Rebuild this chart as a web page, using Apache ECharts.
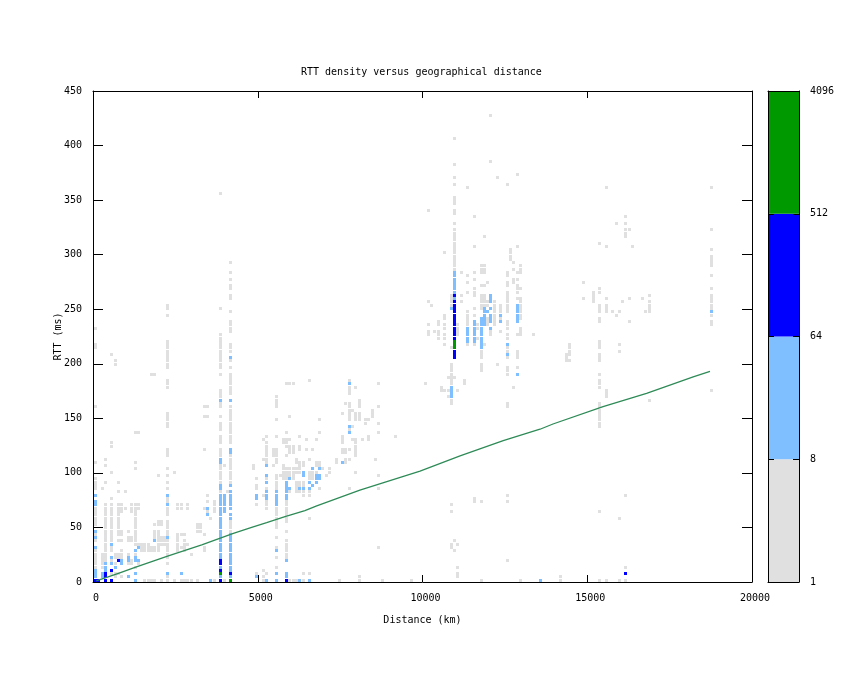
<!DOCTYPE html>
<html>
<head>
<meta charset="UTF-8">
<script type="text/javascript" src="https://cdn.jsdelivr.net/npm/echarts@6/dist/echarts.min.js"></script>
<style>
html,body{margin:0;padding:0;background:#fff;}
</style>
</head>
<body>
<div id="chartmain" style="width:845px; height:673px;"></div>
<script type="text/javascript">
var title = "RTT density versus geographical distance";
var xTitle = "Distance (km)";
var yTitle = "RTT (ms)";

// histogram bins
var kmBin = 100;
var msBin = 3;

// one entry per run of cells: [km bin, first rtt bin, last rtt bin], or [km bin, rtt bin]
var grayCells = [
 [0,77],[0,71,72],[0,53],[0,36],[0,28,31],[0,17,22],[0,14],[0,12],[0,4,9],
 [2,28],[2,7,8],[2,4,6],
 [3,37],[3,35],[3,30],[3,7,23],[3,6],
 [5,69],[5,41,42],[5,33],[5,25],[5,12,23],[5,9,10],[5,6],[5,2],
 [6,66,67],[6,7,8],[6,5],[6,1,2],
 [7,30],[7,27],[7,14,23],[7,12],[7,7,8],[7,2],
 [8,21,23],[8,14,15],[8,12],[8,7,9],[8,1],
 [9,27],[9,22],[10,15],[10,12,13],[10,5,8],[11,21,23],[11,12,13],[11,5,6],
 [12,45],[12,36],[12,34],[12,11,23],[12,8],[12,4],
 [13,45],[13,22,23],[13,11],[13,5],[14,9,11],[15,9,11],[15,0],[16,9,11],[16,0],
 [17,63],[17,9,10],[17,0],[18,63],[18,17],[18,9,10],[18,13,15],[18,0],
 [19,32],[19,17,18],[19,11,15],[19,9,10],[20,17,18],[20,11,13],[20,0],[21,11,13],
 [22,84],[22,83],[22,81],[22,73],[22,70,72],[22,66,69],[22,65],[22,59,61],[22,49,51],[22,47,48],[22,38,40],[22,34],[22,32],[22,30],[22,28],[22,24,25],[22,20,22],[22,17,18],[22,14,16],[22,7,12],[22,5],[22,0,1],
 [24,33],[24,0],[25,22,23],[25,14],[25,9,13],[26,22,23],[26,14],[26,10],[26,0],
 [27,14],[27,9,12],[27,0],[28,22,23],[28,11],[28,0],[29,8],[29,0],[31,15,17],[31,0],[32,15,17],
 [33,53],[33,50],[33,40],[33,22],[33,14],[33,9,10],[34,53],[34,50],[34,26],[34,24],[34,21],[35,19],[36,21,24],[36,0],
 [38,118],[38,83],[38,73,75],[38,70,72],[38,66,69],[38,65],[38,63],[38,58],[38,56,58],[38,53,54],[38,50],[38,46,48],[38,42,44],[38,38,40],[38,30,35],[38,27],
 [39,35],[39,0],
 [40,27],
 [41,97],[41,94],[41,92],[41,89,90],[41,87],[41,86],[41,82],[41,77,79],[41,76],[41,70,72],[41,67],[41,65],[41,63],[41,61,62],[41,59],[41,57,60],[41,52,53],[41,45,51],[41,42,44],[41,38],[41,30,37],[41,15,18],
 [48,34,35],[49,31],[49,28,29],[49,23],[49,2],[51,43],[51,37],[51,26],[51,3],[51,0,1],
 [52,44],[52,36,42],[52,37],[52,31],[52,28],[52,22,24],[52,2],[54,38,40],[54,35],[55,38,40],[55,56],[55,53,55],[55,49],[55,44],[55,36,37],[55,32],[55,26,31],[55,16,22],[55,13],[55,10],[55,7],[55,4],
 [56,32],[57,42,43],[57,35],[57,31,34],[58,60],[58,45],[58,38],[58,41],[58,42,43],[58,31,34],[58,18,25],[58,7,12],[58,15],
 [59,60],[59,50],[59,43],[59,39,41],[59,31,34],[59,27],[59,0],[60,60],[60,39,41],[60,31,34],[60,0],
 [61,36,37],[61,33,34],[61,28,30],[61,27],[61,0],[62,44],[62,40,41],[62,35,36],[62,33,34],[62,28,30],[62,27],
 [63,35,36],[63,29,30],[63,26,27],[63,2],[63,0],[64,43],[64,40],[65,61],[65,37],[65,31,33],[65,26,27],[65,19],[65,2],
 [66,40],[66,31,33],[67,43],[67,35,36],[67,31,33],[68,49],[68,45],[68,35,36],[68,28],[69,34],[70,32],[71,33,34],
 [73,37],[73,36],[74,0],[75,42,44],[75,39,40],[75,51],[76,54],[76,39,40],[76,36,37],
 [77,61],[77,57,59],[77,49,54],[77,46],[77,40],[77,37],[77,28],[78,52],[78,47],[78,43],
 [79,59],[79,49,51],[79,38,43],[79,33],[80,53,55],[80,49,51],[80,0,1],[81,43],[82,49],[82,48],[83,49],[83,43,44],[84,50,52],
 [85,37],[86,60],[86,53],[86,48],[86,45],[86,32],[86,28],[86,10],[87,0],[91,44],[96,0],
 [100,60],[101,113],[101,85],[101,78],[101,75,76],[102,84],[103,76],[104,78,79],[104,76],[104,74,75],[105,59],[105,58],
 [106,100],[106,80,81],[106,77,78],[106,74,75],[106,72],[106,58],[107,62],[107,58],[107,56],
 [108,87],[108,84,86],[108,71],[108,66],[108,63,66],[108,62],[108,60,61],[108,54,55],[108,23],[108,21],[108,11],[108,10],
 [109,135],[109,127],[109,123],[109,121],[109,115,117],[109,112,113],[109,109],[109,105,107],[109,101,104],[109,98,100],[109,95,97],[109,62],[109,12],[109,9],
 [110,77,78],[110,75,76],[110,58],[110,11],[110,4],[110,1,2],
 [111,94],[111,87],[111,85],[112,60,61],
 [113,120],[113,93],[113,91],[113,88],[113,80,82],[113,78,79],[113,72],
 [115,111],[115,102],[115,94],[115,92],[115,87,89],[115,83],[115,81],[115,72],[115,24,25],
 [116,74],[116,77,78],
 [117,94,96],[117,90],[117,87],[117,84,86],[117,83],[117,68,70],[117,64,66],[117,24],[117,0],
 [118,105],[118,94,96],[118,90],[118,87],[118,84,86],[118,72],
 [119,91],[119,84,85],[119,78,80],[120,142],[120,128],[120,75,76],
 [121,84,85],[121,78,83],[122,123],[122,66],
 [123,84],[123,82,83],[123,80],[123,76],[125,121],[125,94],[125,93],[125,91],[125,90],[125,87,88],[125,84,86],[125,82,83],[125,77,79],[125,74,75],[125,70,71],[125,68],[125,63,65],[125,53,54],[125,26],[125,24],[125,6],
 [126,101],[126,98,100],[127,97],[127,95],[127,91,92],[127,59],
 [128,124],[128,102],[128,94],[128,92],[128,88,90],[128,86],[128,75],[128,68,70],[128,65],
 [129,94,96],[129,89],[129,84,86],[129,80,83],[129,77],[129,75,76],[129,0],
 [133,75],[141,0,1],[143,67,69],[144,70,72],[144,69],[144,67],
 [148,91],[148,86],[151,85,88],
 [153,103],[153,88,89],[153,82,84],[153,80],[153,79],[153,73],[153,71,72],[153,67,69],[153,63],[153,59,61],[153,50,54],[153,47,49],[153,21],[153,0],
 [155,120],[155,102],[155,86],[155,82,84],[155,56,58],[155,0],
 [157,82],[158,109],[158,81],[159,82],[159,72],[159,70],[159,19],[159,0],[160,85],
 [161,111],[161,109],[161,105,107],[161,26],[161,4],[161,0],[162,107],[162,86],[162,79],[163,102],
 [166,86],[167,82],[168,87],[168,85],[168,82,84],[168,55],
 [187,120],[187,107],[187,101],[187,98,99],[187,96,97],[187,93],[187,89],[187,87],[187,83,86],[187,81],[187,78,79],[187,58]
];
var lightCells = [
 [0,26],[0,24],[0,23],[0,15],[0,13],[0,10],[0,1,3],
 [2,1,2],[3,4,5],[3,3],[5,11],[5,7],[5,5],[6,4],[7,6],[8,5,6],[10,7],[10,6],[10,1],
 [12,9],[12,7],[12,6],[12,2],[12,0],[13,10],[13,6],[18,12],
 [22,26],[22,23],[22,13],[22,2],[26,2],[34,22],[34,20],[35,0],
 [38,55],[38,36,37],[38,28,29],[38,21,26],[38,18,20],[38,14,17],[38,11,13],[38,7,10],[38,4],[38,1],
 [39,21,26],
 [41,55],[41,68],[41,39,40],[41,29],[41,22,27],[41,19,20],[41,14],[41,11,13],[41,8,10],[41,7],[41,4,6],[41,3],[41,1],
 [49,25,26],[49,1],[52,35],[52,32],[52,30],[52,25,27],[52,0],
 [55,24,27],[55,23],[55,9],[55,2],[55,0],
 [58,28,30],[58,25,27],[58,6],[58,1,2],[59,31],[59,28],[62,28],[62,0],
 [63,32],[63,33],[63,28],[65,30],[65,28],[65,0],[66,34],[66,29],[67,30],[67,31,32],[68,34],[68,31,32],
 [75,36],[77,60],[77,47],[77,45],[135,0],
 [108,83],[108,59],[108,56,58],
 [109,94],[109,91,93],[109,88,90],[109,86],
 [113,77],[113,73,76],[115,77,79],[115,73,76],[117,78,80],[117,75,77],[117,74],[117,71,73],
 [118,81,83],[118,78,80],[119,82],[120,87],[120,85,86],[120,83],[120,80,81],[120,79],[120,77],
 [123,81],[123,79],[125,72],[125,69],[128,84],[128,80,83],[128,79],[128,63],
 [187,82]
];
var blueCells = [
 [0,0],[1,0],[3,0,2],[5,3],[5,0],[7,6],
 [38,5,6],[38,3],[38,0],[41,2],[58,0],
 [109,87],[109,84,85],[109,80,83],[109,77,79],[109,74,76],[109,70],[109,68,69],
 [161,2]
];
var greenCells = [
 [38,2],[41,0],[109,73],[109,71,72]
];

// median line
var lineKm = [100,770,1275,2286,3300,3800,4260,4815,5270,5827,6430,6790,8100,9925,11140,12450,13566,13960,15480,16800,18215,18725];
var lineMs = [1,8,13.5,24,34,39.5,44.5,50,54.4,60,65.5,69.7,84.3,101.7,115.5,129.5,140,144.8,160.7,172.9,188,193];

// colour key
var keyTicks = [1,8,64,512,4096];
var keyColors = ["#e0e0e0","#80bfff","#0000ff","#009900"];

var cellColors = ["#e0e0e0","#80bfff","#0000ff","#009900"];
var monoFont = "DejaVu Sans Mono";

function expand(runs, level, out){
	for(var i = 0; i < runs.length; i++){
		var from = runs[i][1];
		var to = runs[i].length > 2 ? runs[i][2] : from;
		for(var r = from; r <= to; r++){
			out.push([runs[i][0]*kmBin, r*msBin, level]);
		}
	}
}
var cells = [];
expand(grayCells, 0, cells);
expand(lightCells, 1, cells);
expand(blueCells, 2, cells);
expand(greenCells, 3, cells);

var lineData = [];
for(var i = 0; i < lineKm.length; i++){
	lineData.push([lineKm[i], lineMs[i]]);
}

var keyData = [];
for(var i = 0; i < keyColors.length; i++){
	keyData.push([keyTicks[i], keyTicks[i+1], i]);
}

function renderCell(params, api){
	var p = api.coord([api.value(0), api.value(1) + msBin]);
	var s = api.size([kmBin, msBin]);
	return {
		type: 'rect',
		shape: {x: Math.round(p[0]) + 1, y: Math.round(p[1]), width: Math.floor(s[0]), height: Math.floor(s[1])},
		style: {fill: cellColors[api.value(2)]}
	};
}

function renderKey(params, api){
	var a = api.coord([0, api.value(0)]);
	var b = api.coord([1, api.value(1)]);
	return {
		type: 'rect',
		shape: {x: a[0], y: b[1], width: b[0]-a[0], height: a[1]-b[1]},
		style: {fill: keyColors[api.value(2)]}
	};
}

function plain(v){ return String(v); }

var label = {color:'#000', fontFamily:monoFont, fontSize:10};
var xLabel = {color:'#000', fontFamily:monoFont, fontSize:10, margin:11, padding:[0,0,0,6], formatter:plain};
var yLabel = {color:'#000', fontFamily:monoFont, fontSize:10, margin:11, formatter:plain};
var axisLine = {show:true, onZero:false, lineStyle:{color:'#000', width:1}};
var xTick = {show:true, inside:true, length:7, lineStyle:{color:'#000', width:1}};
var yTick = {show:true, inside:true, length:10, lineStyle:{color:'#000', width:1}};
var keyTick = {show:true, inside:true, length:6, lineStyle:{color:'#000', width:1}};

var option = {
	animation: false,
	backgroundColor: '#fff',
	title: {
		text: title, left: 301, top: 67, padding: 0,
		textStyle: {color:'#000', fontFamily:monoFont, fontSize:10, fontWeight:'normal'}
	},
	grid: [
		{left:93, top:91, width:659, height:491},
		{left:768, top:91, width:31, height:491}
	],
	xAxis: [
		{type:'value', gridIndex:0, min:0, max:20000, interval:5000, name:xTitle, nameLocation:'middle', nameGap:33, nameMoveOverlap:false, z:5,
			nameTextStyle:label, axisLine:axisLine, axisTick:xTick, axisLabel:xLabel, splitLine:{show:false}},
		{type:'value', gridIndex:0, min:0, max:20000, interval:5000, position:'top', z:5,
			axisLine:axisLine, axisTick:xTick, axisLabel:{show:false}, splitLine:{show:false}},
		{type:'value', gridIndex:1, min:0, max:1, position:'bottom', z:5,
			axisLine:axisLine, axisTick:{show:false}, axisLabel:{show:false}, splitLine:{show:false}},
		{type:'value', gridIndex:1, min:0, max:1, position:'top', z:5,
			axisLine:axisLine, axisTick:{show:false}, axisLabel:{show:false}, splitLine:{show:false}}
	],
	yAxis: [
		{type:'value', gridIndex:0, min:0, max:450, interval:50, name:yTitle, nameLocation:'middle', nameGap:30, nameRotate:90, nameMoveOverlap:false, z:5,
			nameTextStyle:label, axisLine:axisLine, axisTick:yTick, axisLabel:yLabel, splitLine:{show:false}},
		{type:'value', gridIndex:0, min:0, max:450, interval:50, position:'right', z:5,
			axisLine:axisLine, axisTick:yTick, axisLabel:{show:false}, splitLine:{show:false}},
		{type:'log', logBase:8, gridIndex:1, min:1, max:4096, position:'right', z:5,
			axisLine:axisLine, axisTick:keyTick, minorTick:{show:false}, axisLabel:yLabel, splitLine:{show:false}},
		{type:'log', logBase:8, gridIndex:1, min:1, max:4096, position:'left', z:5,
			axisLine:axisLine, axisTick:keyTick, minorTick:{show:false}, axisLabel:{show:false}, splitLine:{show:false}}
	],
	series: [
		{type:'custom', name:'density', xAxisIndex:0, yAxisIndex:0, data:cells, renderItem:renderCell,
			encode:{x:0, y:1}, clip:true, silent:true, z:1},
		{type:'line', name:'line', xAxisIndex:0, yAxisIndex:0, data:lineData, showSymbol:false, symbol:'none',
			lineStyle:{color:'#2e8b57', width:1.3}, silent:true, z:3},
		{type:'custom', name:'key', xAxisIndex:2, yAxisIndex:2, data:keyData, renderItem:renderKey,
			encode:{y:[0,1]}, silent:true, z:1}
	]
};

var myChart = echarts.init(document.getElementById('chartmain'), null, {renderer:'canvas'});
myChart.setOption(option);
</script>
</body>
</html>
